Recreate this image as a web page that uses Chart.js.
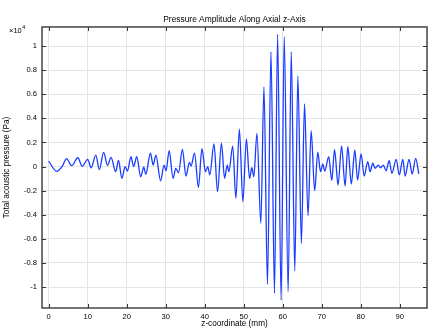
<!DOCTYPE html>
<html>
<head>
<meta charset="utf-8">
<script src="https://cdn.jsdelivr.net/npm/chart.js@4.4.1/dist/chart.umd.min.js"></script>
<style>
  html, body { margin: 0; padding: 0; background: #fff; }
</style>
</head>
<body>
<canvas id="chart" width="439" height="330"></canvas>
<script>
// z positions (mm) of the curve's turning points
const zCoord = [
    0.0, 2.05, 3.5, 4.6, 5.9, 7.5, 8.6, 10.0, 10.9, 12.1,
    13.0, 14.1, 15.1, 16.0, 17.2, 17.9, 18.8, 19.6, 20.2, 21.1,
    21.8, 22.6, 23.6, 24.4, 24.9, 26.1, 26.8, 27.5, 28.7, 29.6,
    30.1, 30.9, 31.9, 32.6, 33.3, 34.3, 35.2, 36.1, 36.5, 37.4,
    38.4, 39.3, 40.2, 40.8, 41.3, 42.4, 43.3, 44.3, 45.1, 45.8,
    46.2, 47.2, 48.0, 48.9, 49.8, 50.7, 51.5, 52.1, 52.6, 53.4,
    54.4, 55.2, 56.1, 57.0, 57.9, 58.7, 59.6, 60.4, 61.4, 62.2,
    63.1, 63.9, 64.8, 65.6, 66.5, 67.3, 68.2, 69.0, 69.7, 70.3,
    70.8, 71.8, 72.6, 73.3, 74.2, 75.1, 76.0, 76.7, 77.6, 78.5,
    79.2, 80.1, 80.9, 81.8, 82.4, 83.1, 83.7, 84.5, 85.1, 85.8,
    86.5, 87.3, 88.0, 89.1, 89.9, 90.8, 91.4, 92.4, 93.2, 94.1,
    94.9
];
// pressure in units of 1e4 Pa
const pressure = [
    0.045, -0.040, 0.002, 0.065, 0.007, 0.073, 0.002, 0.060, -0.010, 0.095,
    -0.025, 0.118, 0.010, 0.076, -0.043, 0.050, -0.098, 0.000, -0.037, 0.081,
    0.000, 0.081, -0.085, -0.005, -0.065, 0.110, 0.012, 0.095, -0.118, 0.012,
    -0.035, 0.131, -0.098, -0.015, -0.051, 0.143, -0.079, 0.035, 0.004, 0.110,
    -0.173, 0.148, -0.043, 0.000, -0.070, 0.187, -0.209, 0.193, -0.098, 0.012,
    -0.043, 0.170, -0.264, 0.311, -0.292, 0.228, -0.098, -0.010, -0.085, 0.275,
    -0.471, 0.660, -0.978, 0.953, -1.052, 1.097, -1.108, 1.077, -1.039, 0.953,
    -0.867, 0.751, -0.637, 0.519, -0.408, 0.297, -0.200, 0.120, -0.043, 0.020,
    -0.037, 0.081, -0.115, 0.140, -0.154, 0.170, -0.162, 0.164, -0.145, 0.137,
    -0.112, 0.104, -0.079, 0.040, -0.043, 0.027, -0.015, 0.012, -0.010, 0.012,
    -0.035, 0.048, -0.056, 0.060, -0.070, 0.060, -0.079, 0.060, -0.062, 0.068,
    -0.062
];
const xTicks = [0, 10, 20, 30, 40, 50, 60, 70, 80, 90];
const yTicks = [-1, -0.8, -0.6, -0.4, -0.2, 0, 0.2, 0.4, 0.6, 0.8, 1];
const chartTitle = 'Pressure Amplitude Along Axial z-Axis';
const xLabel = 'z-coordinate (mm)';
const yLabel = 'Total acoustic pressure (Pa)';
const yExponent = '4';

const fontFamily = "'Liberation Sans', Arial, sans-serif";
const points = zCoord.map((z, i) => ({ x: z, y: pressure[i] }));

function formatTick(v) {
    if (Math.abs(v) < 1e-9) return '0';
    return String(Math.round(v * 10) / 10);
}

// box around the plot with inward ticks on all sides, plus the x10^4 marker
const frame = {
    id: 'frame',
    afterDraw(chart) {
        const { ctx, chartArea: a, scales } = chart;
        ctx.save();
        ctx.strokeStyle = '#444';
        ctx.lineWidth = 1.5;
        ctx.strokeRect(a.left, a.top, a.right - a.left, a.bottom - a.top);

        ctx.lineWidth = 1;
        ctx.strokeStyle = '#333';
        ctx.beginPath();
        xTicks.forEach(v => {
            const px = Math.round(scales.x.getPixelForValue(v)) + 0.5;
            ctx.moveTo(px, a.bottom); ctx.lineTo(px, a.bottom - 4);
            ctx.moveTo(px, a.top); ctx.lineTo(px, a.top + 4);
        });
        yTicks.forEach(v => {
            const py = Math.round(scales.y.getPixelForValue(v)) + 0.5;
            ctx.moveTo(a.left, py); ctx.lineTo(a.left + 4, py);
            ctx.moveTo(a.right, py); ctx.lineTo(a.right - 4, py);
        });
        ctx.stroke();

        ctx.fillStyle = '#000';
        ctx.textBaseline = 'alphabetic';
        ctx.font = '7.5px ' + fontFamily;
        ctx.fillText('\u00d710', 9, 33);
        const w = ctx.measureText('\u00d710').width;
        ctx.font = '5.5px ' + fontFamily;
        ctx.fillText(yExponent, 9 + w + 0.5, 29);
        ctx.restore();
    }
};

new Chart(document.getElementById('chart'), {
    type: 'line',
    data: {
        datasets: [{
            data: points,
            borderColor: 'rgb(25, 60, 255)',
            borderWidth: 1.3,
            pointRadius: 0,
            cubicInterpolationMode: 'monotone',
            fill: false
        }]
    },
    options: {
        responsive: false,
        animation: false,
        layout: { padding: { left: 0, right: 12, top: 0, bottom: 0 } },
        plugins: {
            legend: { display: false },
            tooltip: { enabled: false },
            title: {
                display: true,
                text: chartTitle,
                fullSize: false,
                color: '#000',
                font: { family: fontFamily, size: 8.4, weight: 'normal' },
                padding: { top: 14.8, bottom: 2.1 }
            }
        },
        scales: {
            x: {
                type: 'linear',
                min: -1.7,
                max: 97,
                afterBuildTicks: s => { s.ticks = xTicks.map(v => ({ value: v })); },
                afterFit: s => { s.height = 22; },
                grid: { color: '#e4e4e4', drawTicks: false },
                border: { display: false },
                ticks: {
                    padding: 4,
                    color: '#000',
                    maxRotation: 0,
                    font: { family: fontFamily, size: 7.6 },
                    callback: v => String(v)
                },
                title: {
                    display: true,
                    text: xLabel,
                    color: '#000',
                    font: { family: fontFamily, size: 8.2 },
                    padding: { top: 0, bottom: 1 }
                }
            },
            y: {
                type: 'linear',
                min: -1.174,
                max: 1.158,
                afterBuildTicks: s => { s.ticks = yTicks.map(v => ({ value: v })); },
                afterFit: s => { s.width = 42; },
                grid: { color: '#e4e4e4', drawTicks: false },
                border: { display: false },
                ticks: {
                    padding: 5,
                    color: '#000',
                    font: { family: fontFamily, size: 7.6 },
                    callback: v => formatTick(v)
                },
                title: {
                    display: true,
                    text: yLabel,
                    color: '#000',
                    font: { family: fontFamily, size: 8.2 },
                    padding: { top: 1.5, bottom: 0 }
                }
            }
        }
    },
    plugins: [frame]
});
</script>
</body>
</html>
